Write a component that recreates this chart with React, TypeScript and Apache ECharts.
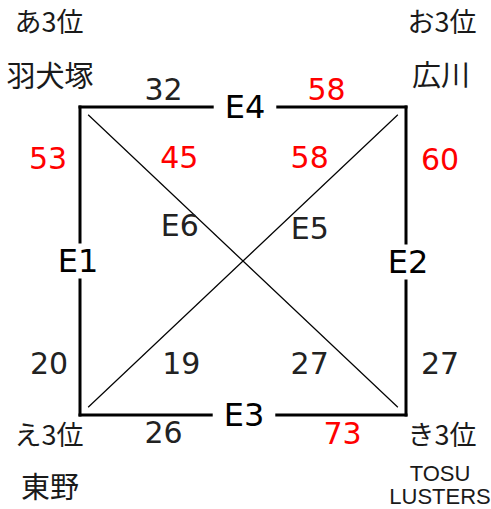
import React, { useEffect, useRef } from "react";
import * as echarts from "echarts";

// ---- data ----
const teams = ["羽犬塚", "広川", "東野", "TOSU\nLUSTERS"];
const ranks = ["あ3位", "お3位", "え3位", "き3位"];
const edges = ["E1", "E2", "E3", "E4", "E5", "E6"];
const edgeFrom = [0, 1, 2, 0, 2, 0];
const edgeTo = [2, 3, 3, 1, 1, 3];
const scoreFrom = [53, 60, 26, 32, 19, 45];
const scoreTo = [20, 27, 73, 58, 58, 27];

// ---- layout (positions in axis units / pixel offsets) ----
const cornerPos = [
  [0, 1],
  [1, 1],
  [0, 0],
  [1, 0],
];
const rankOffset = [
  [-31, -87],
  [36, -87],
  [-31, 18],
  [36, 18],
];
const teamOffset = [
  [-30, -33],
  [35, -34],
  [-30, 70],
  [34, 70],
];
const isSide = [true, true, true, true, false, false];
const scoreT = [
  [1 / 6, 5 / 6],
  [1 / 6, 5 / 6],
  [0.25, 0.75],
  [0.25, 0.75],
  [1 / 6, 5 / 6],
  [1 / 6, 5 / 6],
];
const scoreFromOffset = [
  [-32, 0],
  [34, 1],
  [2, 17],
  [2, -18],
  [47, 0],
  [45, -1],
];
const scoreToOffset = [
  [-31, 0],
  [34, 0],
  [18, 18],
  [2, -18],
  [-42, -1],
  [-42, 0],
];
const edgeLabelT = [0.5, 0.5, 0.5, 0.5, 0.607, 0.386];
const edgeLabelOffset = [
  [-2, 0],
  [2, 1],
  [1, 0],
  [2, 0],
  [32, 0],
  [-26, 0],
];

const NUM_FONT = "'DejaVu Sans', 'Noto Sans', sans-serif";
const JP_FONT = "'Noto Sans CJK JP', 'DejaVu Sans', sans-serif";

function lerp(a: number[], b: number[], t: number) {
  return [a[0] + (b[0] - a[0]) * t, a[1] + (b[1] - a[1]) * t];
}

export default function App() {
  const ref = useRef<HTMLDivElement>(null);
  useEffect(() => {
    document.body.style.margin = "0";
    if (!ref.current) return;
    const chart = echarts.init(ref.current, null, { renderer: "svg" });

    const lineSeries: any[] = edges.map((name, i) => {
      const a = cornerPos[edgeFrom[i]];
      const b = cornerPos[edgeTo[i]];
      const pts = isSide[i] ? [a, b] : [lerp(a, b, 0.025), lerp(a, b, 0.975)];
      return {
        type: "line",
        name,
        data: pts,
        symbol: "none",
        clip: false,
        silent: true,
        z: 2,
        lineStyle: {
          color: "#000",
          opacity: 1,
          width: isSide[i] ? 3 : 1.2,
          cap: isSide[i] ? "square" : "butt",
        },
      };
    });

    const labels: any[] = [];
    const mk = (pos: number[], off: number[], text: string, style: any) => {
      labels.push({
        value: pos,
        label: {
          show: true,
          position: "inside",
          formatter: text,
          offset: off,
          align: "center",
          verticalAlign: "middle",
          ...style,
        },
      });
    };

    edges.forEach((name, i) => {
      const a = cornerPos[edgeFrom[i]];
      const b = cornerPos[edgeTo[i]];
      const sf = scoreFrom[i];
      const st = scoreTo[i];
      const numStyle = (win: boolean) => ({
        fontFamily: NUM_FONT,
        fontSize: 30,
        color: win ? "#ff0000" : "#222",
      });
      mk(lerp(a, b, scoreT[i][0]), scoreFromOffset[i], String(sf), numStyle(sf > st));
      mk(lerp(a, b, scoreT[i][1]), scoreToOffset[i], String(st), numStyle(st > sf));
      const horiz = a[1] === b[1];
      mk(
        lerp(a, b, edgeLabelT[i]),
        edgeLabelOffset[i],
        name,
        isSide[i]
          ? {
              fontFamily: NUM_FONT,
              fontSize: 32,
              lineHeight: 31,
              color: "#000",
              backgroundColor: "#fff",
              padding: horiz ? [2, 11] : [2, 4],
            }
          : { fontFamily: NUM_FONT, fontSize: 30, color: "#222" }
      );
    });

    teams.forEach((t, i) => {
      const multi = t.includes("\n");
      mk(cornerPos[i], rankOffset[i], ranks[i], {
        fontFamily: JP_FONT,
        fontSize: 27,
        color: "#1a1a1a",
      });
      mk(
        cornerPos[i],
        teamOffset[i],
        t,
        multi
          ? {
              fontFamily: "'Liberation Sans', Arial, sans-serif",
              fontSize: 22,
              lineHeight: 23,
              color: "#1a1a1a",
            }
          : { fontFamily: JP_FONT, fontSize: 29, color: "#1a1a1a" }
      );
    });

    chart.setOption({
      animation: false,
      backgroundColor: "#fff",
      grid: { left: 80, top: 107, width: 326, height: 308 },
      xAxis: { type: "value", min: 0, max: 1, show: false },
      yAxis: { type: "value", min: 0, max: 1, show: false },
      series: [
        ...lineSeries,
        {
          type: "scatter",
          data: labels,
          symbolSize: 0,
          clip: false,
          silent: true,
          z: 5,
          itemStyle: { opacity: 1 },
        },
      ],
    });
    return () => chart.dispose();
  }, []);
  return <div ref={ref} style={{ width: 491, height: 509 }} />;
}
